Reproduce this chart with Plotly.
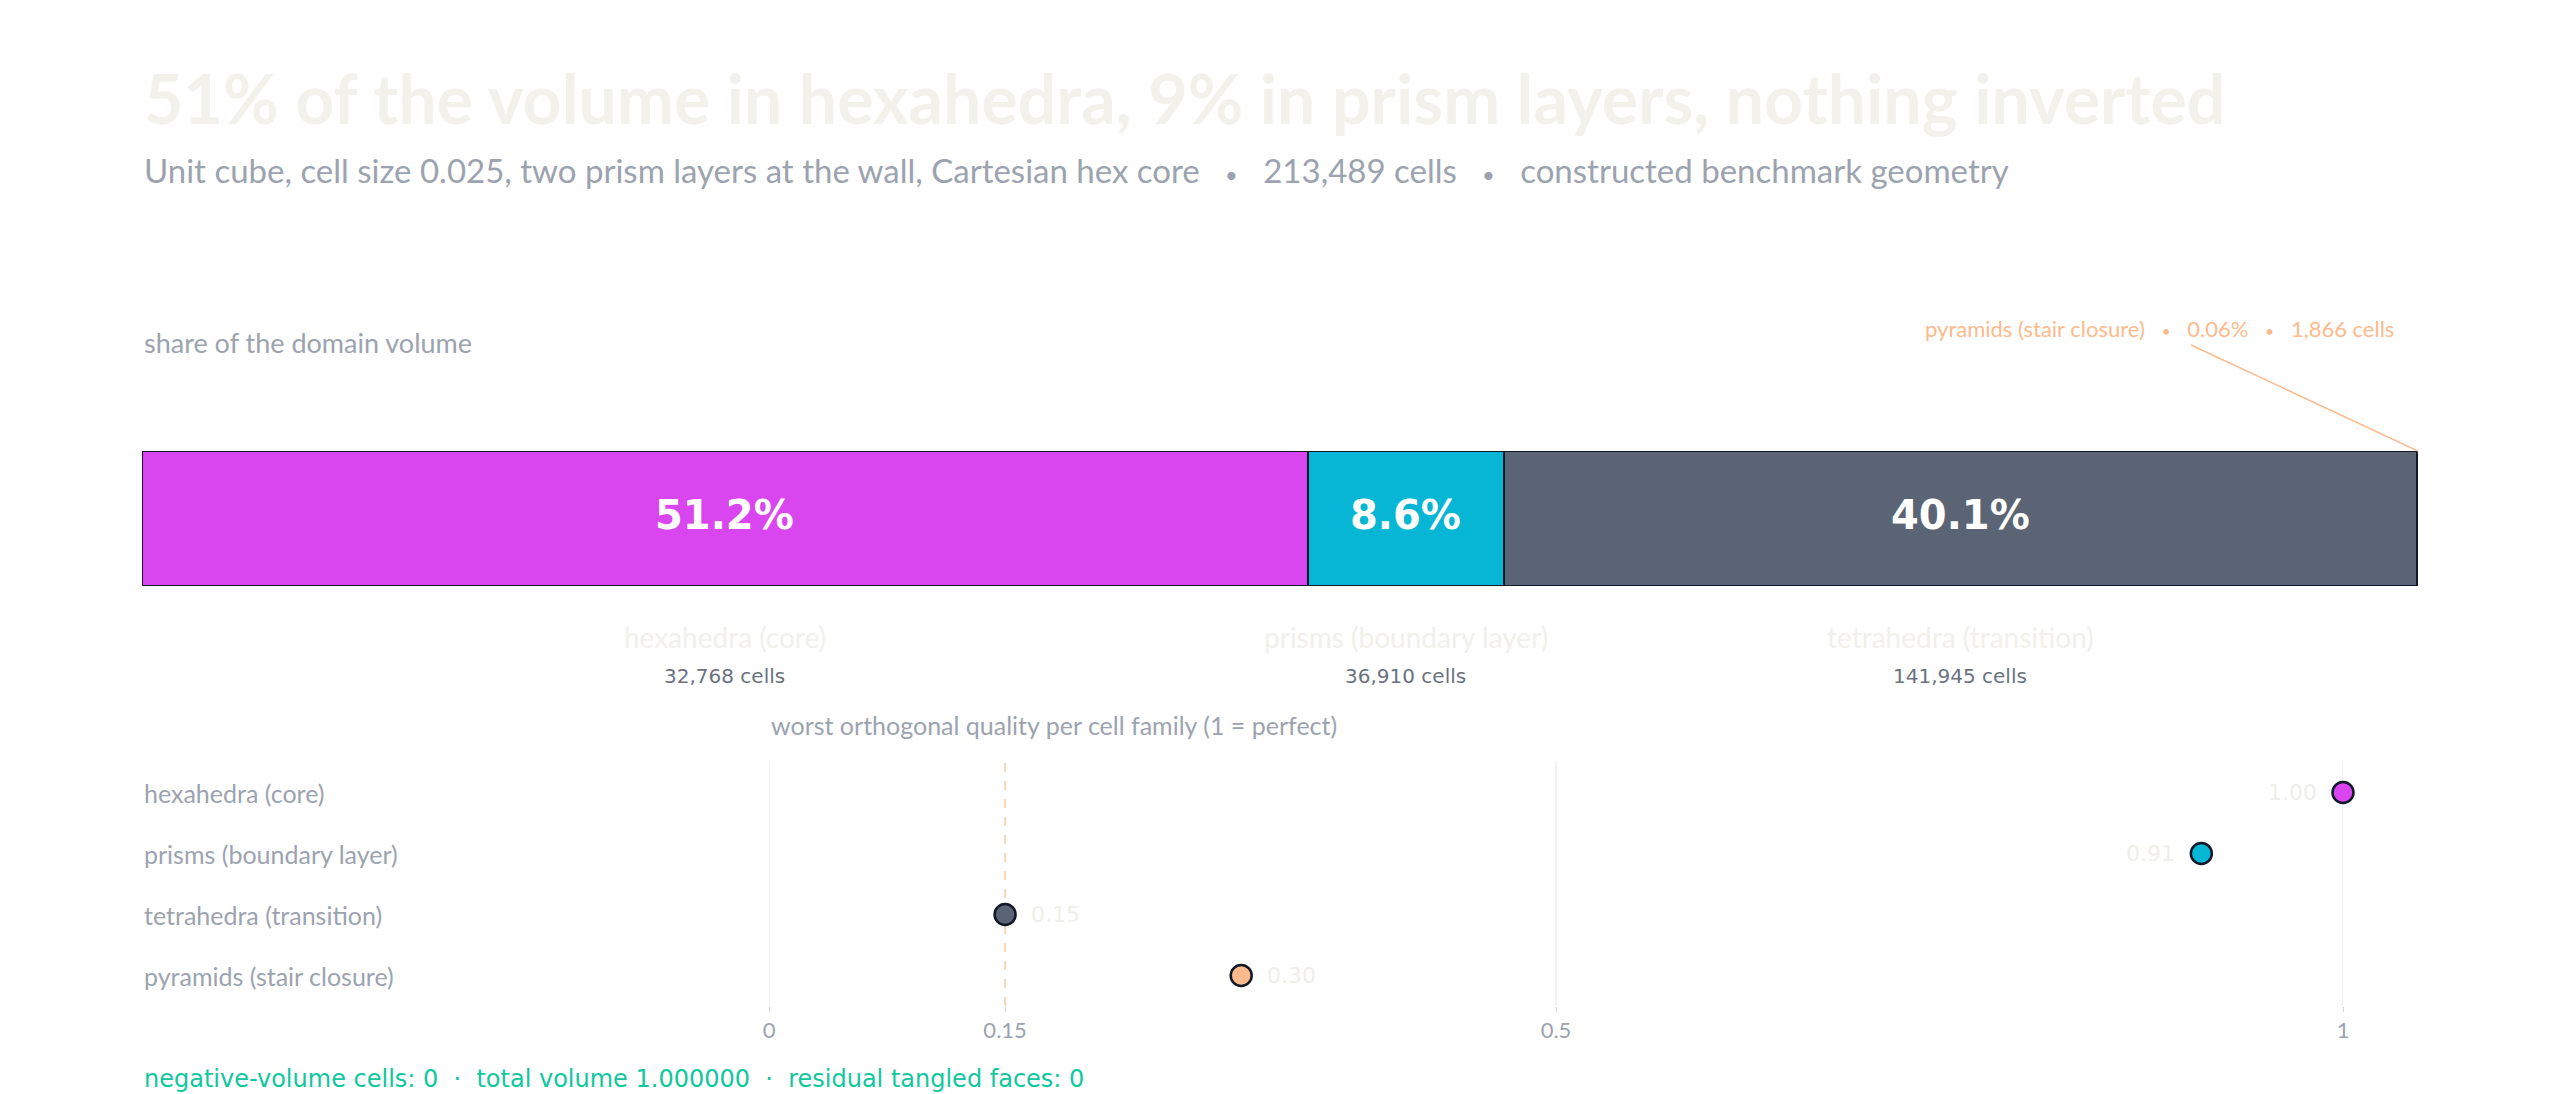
import plotly.graph_objects as go

# ---------------- data ----------------
families = ["hexahedra (core)", "prisms (boundary layer)",
            "tetrahedra (transition)", "pyramids (stair closure)"]
volume_share = [51.2, 8.6, 40.1, 0.06]          # % of domain volume
cell_counts = [32768, 36910, 141945, 1866]
worst_quality = [1.00, 0.91, 0.15, 0.30]        # worst orthogonal quality
family_colors = ["#d946ef", "#06b6d4", "#5b6474", "#fdba8c"]
quality_ticks = [0, 0.15, 0.5, 1]
quality_tick_text = ["0", "0.15", "0.5", "1"]
quality_grid = [0, 0.5, 1]
quality_threshold = 0.15
total_cells = 213489
negative_volume_cells = 0
total_volume = 1.0
tangled_faces = 0

# ---------------- layout helpers ----------------
W, H = 2560, 1094
ML, MR = 142, 142
SANS = "Source Sans Pro, Lato, sans-serif"
DEJAVU = "DejaVu Sans, sans-serif"
OUTLINE = "#111827"


def py(pix):
    return 1 - pix / H


def px(pix):
    return (pix - ML) / (W - ML - MR)


def bullet(size):
    gap = "\u00a0" * 3
    return f'{gap}<span style="font-size:{size}px">•</span>{gap}'


fig = go.Figure()

# ---------------- stacked share bar ----------------
for fam, share, col in zip(families, volume_share, family_colors):
    fig.add_trace(go.Bar(
        x=[share], y=["volume"], orientation="h",
        marker=dict(color=col, line=dict(color=OUTLINE, width=2)),
        xaxis="x", yaxis="y", showlegend=False, hoverinfo="skip",
    ))

total_share = sum(volume_share)

annotations = []
cum = 0
for fam, share, n in zip(families, volume_share, cell_counts):
    mid = cum + share / 2
    cum += share
    if share < 1:
        continue
    annotations.append(dict(x=mid, y=0, xref="x", yref="y", text=f"{share:.1f}%",
                            showarrow=False, xanchor="center", yanchor="middle", yshift=4,
                            font=dict(family=DEJAVU, size=40, color="#ffffff", weight="bold")))
    annotations.append(dict(x=mid, y=py(637), xref="x", yref="paper",
                            text=fam, showarrow=False, xanchor="center", yanchor="middle",
                            font=dict(family=SANS, size=28, color="#f1f0eb")))
    annotations.append(dict(x=mid, y=py(676), xref="x", yref="paper",
                            text=f"{n:,} cells", showarrow=False, xanchor="center", yanchor="middle",
                            font=dict(family=DEJAVU, size=20, color="#6b7280")))

# pyramid callout
annotations.append(dict(x=px(2396), y=py(328), xref="paper", yref="paper",
                        text=f"{families[3]}{bullet(15)}{volume_share[3]:.2f}%{bullet(15)}{cell_counts[3]:,} cells",
                        showarrow=False, xanchor="right", yanchor="middle", align="right",
                        font=dict(family=SANS, size=22, color="#fdba8c")))

# ---------------- dot plot ----------------
fig.add_trace(go.Scatter(
    x=worst_quality, y=families, mode="markers",
    marker=dict(size=21, color=family_colors, line=dict(color=OUTLINE, width=2.5)),
    cliponaxis=False, xaxis="x2", yaxis="y2", showlegend=False, hoverinfo="skip",
))

for fam, q in zip(families, worst_quality):
    right_side = q <= 0.5
    annotations.append(dict(x=q, y=fam, xref="x2", yref="y2", text=f"{q:.2f}",
                            showarrow=False, xanchor="left" if right_side else "right",
                            align="left" if right_side else "right",
                            xshift=24 if right_side else -24, yanchor="middle",
                            font=dict(family=DEJAVU, size=22, color="#efeee9")))

for fam in families:
    annotations.append(dict(x=0, y=fam, xref="paper", yref="y2", text=fam,
                            showarrow=False, xanchor="left", align="left", yanchor="middle",
                            font=dict(family=SANS, size=25, color="#9ca3af")))

annotations += [
    dict(x=0, y=py(97), xref="paper", yref="paper",
         text="51% of the volume in hexahedra, 9% in prism layers, nothing inverted",
         showarrow=False, xanchor="left", align="left", yanchor="middle",
         font=dict(family=SANS, size=68, color="#f2f1ec", weight="bold")),
    dict(x=0, y=py(170), xref="paper", yref="paper",
         text=f"Unit cube, cell size 0.025, two prism layers at the wall, Cartesian hex core{bullet(22)}{total_cells:,} cells{bullet(22)}constructed benchmark geometry",
         showarrow=False, xanchor="left", align="left", yanchor="middle",
         font=dict(family=SANS, size=33, color="#9ca3af")),
    dict(x=0, y=py(343), xref="paper", yref="paper", text="share of the domain volume",
         showarrow=False, xanchor="left", align="left", yanchor="middle",
         font=dict(family=SANS, size=27, color="#9ca3af")),
    dict(x=px(769), y=py(725), xref="paper", yref="paper",
         text="worst orthogonal quality per cell family (1 = perfect)",
         showarrow=False, xanchor="left", align="left", yanchor="middle",
         font=dict(family=SANS, size=25, color="#9ca3af")),
    dict(x=0, y=py(1079), xref="paper", yref="paper",
         text=f"negative-volume cells: {negative_volume_cells}  ·  total volume {total_volume:.6f}  ·  residual tangled faces: {tangled_faces}",
         showarrow=False, xanchor="left", align="left", yanchor="middle",
         font=dict(family=DEJAVU, size=24, color="#10c79e")),
]

shapes = []
for g in quality_grid:
    shapes.append(dict(type="line", xref="x2", yref="y2 domain", x0=g, x1=g, y0=0, y1=1,
                       line=dict(color="#ececec", width=1.5), layer="below"))
shapes.append(dict(type="line", xref="x2", yref="y2 domain", x0=quality_threshold, x1=quality_threshold,
                   y0=0, y1=1, line=dict(color="#fbd5b5", width=2, dash="dash"), layer="below"))
shapes.append(dict(type="line", xref="x", yref="paper", x0=px(2191) * total_share, y0=py(345),
                   x1=total_share, y1=py(451),
                   line=dict(color="#fdba8c", width=1.5)))

bar_dom = [py(586), py(451)]
dot_dom = [py(1006), py(762)]

fig.update_layout(
    width=W, height=H,
    margin=dict(l=ML, r=MR, t=0, b=0),
    paper_bgcolor="#ffffff", plot_bgcolor="rgba(0,0,0,0)",
    barmode="stack", bargap=0,
    xaxis=dict(domain=[0, 1], range=[0, total_share], visible=False, fixedrange=True),
    yaxis=dict(domain=bar_dom, range=[-0.5, 0.5], visible=False, fixedrange=True),
    xaxis2=dict(domain=[px(769), px(2343)], range=[0, 1], anchor="y2",
                tickvals=quality_ticks, ticktext=quality_tick_text,
                ticks="outside", ticklen=5, tickcolor="#d1d5db",
                showgrid=False, zeroline=False, showline=False,
                tickfont=dict(family=SANS, size=22, color="#9ca3af")),
    yaxis2=dict(domain=dot_dom, range=[3.5, -0.5], anchor="x2", type="category",
                categoryorder="array", categoryarray=families,
                showticklabels=False, showgrid=False, zeroline=False, showline=False, ticks=""),
    annotations=annotations, shapes=shapes,
    font=dict(family=SANS),
)

fig.write_html("out.html")
